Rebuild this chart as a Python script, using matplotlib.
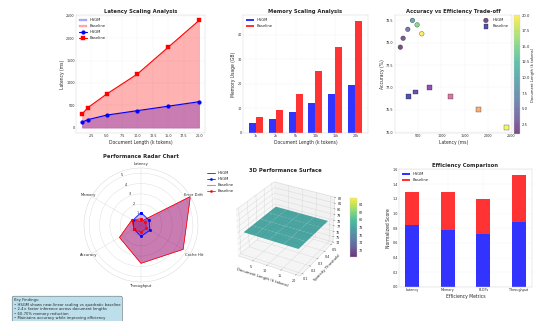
import numpy as np
import matplotlib
matplotlib.use('Agg')
import matplotlib.pyplot as plt
from matplotlib.lines import Line2D

W, H = 537, 321

# document lengths in k tokens
doc_lengths = [1, 2, 5, 10, 15, 20]
length_labels = ['1k', '2k', '5k', '10k', '15k', '20k']

# latency (ms)
hsgm_latency = [120, 180, 280, 380, 480, 580]
baseline_latency = [300, 450, 750, 1200, 1800, 2400]

# memory (GB)
hsgm_memory = [4.2, 5.8, 8.5, 12.3, 15.8, 19.5]
baseline_memory = [6.5, 9.2, 15.8, 25.4, 35.2, 45.8]

# accuracy (%)
hsgm_accuracy = [77.9, 78.1, 78.3, 78.5, 78.4, 78.2]
baseline_accuracy = [76.8, 76.9, 77.0, 76.8, 76.5, 76.1]

# radar chart
radar_metrics = ['Latency', 'Memory', 'Accuracy', 'Throughput', 'Cache Hit', 'Error Drift']
hsgm_radar = [1.2, 0.9, 0.8, 1.1, 1.0, 0.9]
baseline_radar = [0.6, 1.0, 0.8, 0.7, 0.6, 0.5]
baseline_radar_raw = [0.35, 1.0, 2.4, 3.7, 4.7, 5.5]

# 3D surface
surface_lengths = [1, 5, 10, 15, 20]
surface_thresholds = [0.1, 0.2, 0.3, 0.4, 0.5]
surface_accuracy = [
    [78.0, 78.0, 78.0, 78.0, 78.0],
    [78.0, 78.0, 78.0, 78.0, 78.0],
    [78.0, 78.0, 78.0, 78.0, 78.0],
    [78.0, 78.0, 78.0, 78.0, 78.0],
    [78.0, 78.0, 78.0, 78.0, 78.0],
]

# efficiency comparison
eff_metrics = ['Latency', 'Memory', 'FLOPs', 'Throughput']
hsgm_eff = [0.85, 0.78, 0.72, 0.88]
baseline_eff = [0.45, 0.52, 0.48, 0.65]

findings = ("Key Findings:\n"
            "\u2022 HSGM shows near-linear scaling vs quadratic baseline\n"
            "\u2022 2-4\u00d7 faster inference across document lengths\n"
            "\u2022 60-70% memory reduction\n"
            "\u2022 Maintains accuracy while improving efficiency")


def rect(x0, y0, x1, y1):
    return [x0 / W, 1 - y1 / H, (x1 - x0) / W, (y1 - y0) / H]


plt.style.use('seaborn-v0_8-whitegrid')
plt.rcParams['font.family'] = ['DejaVu Sans']
plt.rcParams['axes.edgecolor'] = '#cccccc'

fig = plt.figure(figsize=(W / 27, H / 27), dpi=27)

title_kw = dict(fontsize=14, fontweight='bold')

# 3D surface (added first so the radar legend sits above it)
ax5 = fig.add_axes(rect(230, 170, 340, 286), projection='3d')
X, Y = np.meshgrid(surface_lengths, surface_thresholds)
Z = np.array(surface_accuracy)
surf = ax5.plot_surface(X, Y, Z, cmap='viridis', alpha=0.8)
ax5.set_xlabel('Document Length (k tokens)', fontsize=10, labelpad=2)
ax5.set_ylabel('Sparsity Threshold', fontsize=10, labelpad=2)
ax5.set_title('3D Performance Surface', y=1.07, **title_kw)
ax5.set_xticks([5, 10, 15, 20])
ax5.set_yticks([0.1, 0.2, 0.3, 0.4, 0.5])
ax5.tick_params(labelsize=9, pad=0)
cax5 = fig.add_axes(rect(350, 198, 357, 257))
fig.colorbar(surf, cax=cax5)
cax5.tick_params(labelsize=9)

# latency
ax1 = fig.add_axes(rect(76, 15, 205, 133))
ax1.fill_between(doc_lengths, hsgm_latency, alpha=0.3, color='blue', label='HSGM')
ax1.fill_between(doc_lengths, baseline_latency, alpha=0.3, color='red', label='Baseline')
ax1.plot(doc_lengths, hsgm_latency, 'o-', color='blue', linewidth=3, markersize=10, label='HSGM')
ax1.plot(doc_lengths, baseline_latency, 's-', color='red', linewidth=3, markersize=10, label='Baseline')
ax1.set_xlabel('Document Length (k tokens)', fontsize=12)
ax1.set_ylabel('Latency (ms)', fontsize=12)
ax1.set_title('Latency Scaling Analysis', **title_kw)
ax1.legend(loc='upper left', fontsize=10)
ax1.grid(True, alpha=0.3)

# memory
ax2 = fig.add_axes(rect(243, 15, 368, 133))
x = np.arange(len(length_labels))
w = 0.35
ax2.bar(x - w / 2, hsgm_memory, w, color='blue', alpha=0.8, label='HSGM')
ax2.bar(x + w / 2, baseline_memory, w, color='red', alpha=0.8, label='Baseline')
ax2.set_xticks(x)
ax2.set_xticklabels(length_labels)
ax2.set_xlabel('Document Length (k tokens)', fontsize=12)
ax2.set_ylabel('Memory Usage (GB)', fontsize=12)
ax2.set_title('Memory Scaling Analysis', **title_kw)
ax2.legend(loc='upper left', fontsize=10)
ax2.grid(True, alpha=0.3)

# accuracy vs latency
ax3 = fig.add_axes(rect(395, 15, 512, 133))
sc = ax3.scatter(hsgm_latency, hsgm_accuracy, c=doc_lengths, cmap='viridis', s=150,
                 alpha=0.7, edgecolors='black', marker='o', label='HSGM')
ax3.scatter(baseline_latency, baseline_accuracy, c=doc_lengths, cmap='plasma', s=150,
            alpha=0.7, edgecolors='black', marker='s', label='Baseline')
ax3.set_xlabel('Latency (ms)', fontsize=12)
ax3.set_ylabel('Accuracy (%)', fontsize=12)
ax3.set_title('Accuracy vs Efficiency Trade-off', **title_kw)
ax3.legend(loc='upper right', fontsize=10)
ax3.grid(True, alpha=0.3)
cax3 = fig.add_axes(rect(514, 15, 520, 134))
cb3 = fig.colorbar(sc, cax=cax3)
cb3.set_label('Document Length (k tokens)', fontsize=10)

# radar
ax4 = fig.add_axes(rect(84, 168, 198, 282), projection='polar')
angles = np.linspace(0, 2 * np.pi, len(radar_metrics), endpoint=False).tolist()
closed = angles + angles[:1]
hs = hsgm_radar + hsgm_radar[:1]
bl = baseline_radar + baseline_radar[:1]
raw = baseline_radar_raw + baseline_radar_raw[:1]
ax4.set_theta_offset(np.pi / 2)
ax4.fill(closed, raw, color='blue', alpha=0.3)
ax4.fill(closed, raw, color='red', alpha=0.3)
ax4.plot(closed, raw, color='red', linewidth=2)
ax4.fill(closed, hs, color='blue', alpha=0.25)
ax4.plot(closed, hs, 'o-', color='blue', linewidth=2, markersize=7)
ax4.fill(closed, bl, color='red', alpha=0.25)
ax4.plot(closed, bl, 'o-', color='red', linewidth=2, markersize=7)
ax4.set_xticks(angles)
ax4.set_xticklabels(radar_metrics, fontsize=10)
ax4.set_ylim(0, max(baseline_radar_raw))
ax4.set_yticks([1, 2, 3, 4, 5])
ax4.tick_params(axis='y', labelsize=9)
ax4.set_title('Performance Radar Chart', pad=12, **title_kw)
radar_handles = [
    Line2D([], [], color='blue', linewidth=2),
    Line2D([], [], color='blue', linewidth=2, marker='o', markersize=6),
    Line2D([], [], color='#f08080', linewidth=3),
    Line2D([], [], color='red', linewidth=2, marker='o', markersize=6),
]
ax4.legend(radar_handles, ['HSGM', 'HSGM', 'Baseline', 'Baseline'], fontsize=10,
           loc='upper right', bbox_to_anchor=(237 / W, 1 - 168 / H),
           bbox_transform=fig.transFigure)

# efficiency comparison
ax6 = fig.add_axes(rect(399, 169, 532, 287))
xe = np.arange(len(eff_metrics))
ax6.bar(xe, hsgm_eff, 0.4, color='blue', alpha=0.8, label='HSGM')
ax6.bar(xe, baseline_eff, 0.4, bottom=hsgm_eff, color='red', alpha=0.8, label='Baseline')
ax6.set_xticks(xe)
ax6.set_xticklabels(eff_metrics)
ax6.set_xlabel('Efficiency Metrics', fontsize=12)
ax6.set_ylabel('Normalized Score', fontsize=12)
ax6.set_title('Efficiency Comparison', **title_kw)
ax6.legend(loc='upper left', fontsize=10)
ax6.grid(True, alpha=0.3)

for ax in (ax1, ax2, ax3, ax6):
    ax.tick_params(labelsize=9)

fig.text(14 / W, 1 - 298 / H, findings, fontsize=10, va='top', ha='left',
         bbox=dict(boxstyle='round,pad=0.5', facecolor='lightblue', alpha=0.8))

fig.savefig('out.png', dpi=27)
